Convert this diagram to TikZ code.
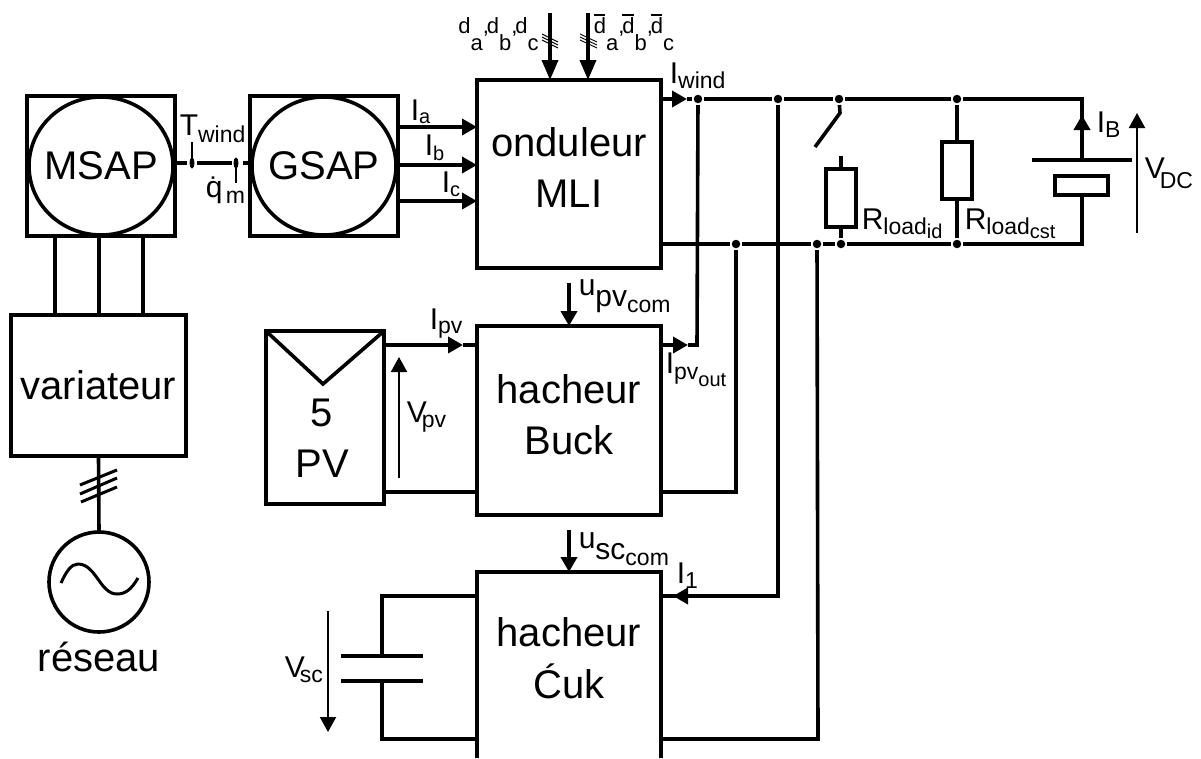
\documentclass[tikz,border=0pt]{standalone}
\usepackage{fontspec}
\setmainfont{Liberation Sans}
\usetikzlibrary{arrows.meta}
\newcommand\bigtxt{\fontsize{40}{50}\selectfont}
\newcommand\midtxt{\fontsize{30}{30}\selectfont}
\newcommand\sbb[2][-5pt]{\raisebox{#1}{\fontsize{23}{23}\selectfont #2}}
\newcommand\sbc[2][-4pt]{\raisebox{#1}{\fontsize{20}{20}\selectfont #2}}
\newcommand\sbd[1]{\raisebox{-17pt}{\fontsize{22}{22}\selectfont #1},\kern-2pt}
\newcommand\sbu[1]{\raisebox{-11pt}{\midtxt #1}}
\newcommand\dbar{\leavevmode\rlap{\raisebox{17.5pt}{\rule{11.5pt}{1.3pt}}}d}
\begin{document}
\begin{tikzpicture}[x=1pt,y=-1pt,line width=3.6pt]
                \tikzstyle{blockbox}=[draw,outer sep=0pt,inner sep=0pt,font=\bigtxt]
                \tikzstyle{dot}=[circle,fill,inner sep=0pt,minimum size=8.5pt]
                \tikzstyle{head}=[-{Triangle[length=15pt,width=16pt]}]
                \tikzstyle{bighead}=[-{Triangle[length=20pt,width=16pt]}]
                \tikzstyle{thinarrow}=[line width=2pt,-{Triangle[length=15pt,width=16pt]}]
                \tikzstyle{lbl}=[inner sep=0pt,anchor=base west,font=\midtxt]
                \tikzstyle{blktxt}=[inner sep=0pt,anchor=base,font=\bigtxt]
                \newcommand\lab[4]{\node[lbl] at (#1,#2) (#3) {#4};}
                \newcommand\blk[4]{\node[blktxt] at (#1,#2) (#3) {#4};}
                \useasboundingbox (0,0) rectangle (1201,758);
                \node[blockbox,minimum width=148pt,minimum height=140pt] at (101,166) (msap) {MSAP};
                \node[blockbox,minimum width=148pt,minimum height=140pt] at (324,166) (gsap) {GSAP};
                \node[blockbox,minimum width=175pt,minimum height=141pt] at (98.5,385.5) (vari) {variateur};
                \node[blockbox,minimum width=184pt,minimum height=188pt] at (569,174) (ond) {};
                \node[blockbox,minimum width=184pt,minimum height=189pt] at (569,420.5) (buck) {};
                \node[outer sep=0pt,inner sep=0pt,minimum width=184pt,minimum height=186pt] at (569,665) (cuk) {};
                \node[draw,outer sep=0pt,inner sep=0pt,minimum width=118pt,minimum height=173pt] at (325,417.5) (pv) {};
                \blk{569}{156}{ondtxt}{onduleur}
                \blk{569}{207}{mlitxt}{MLI}
                \blk{569}{403}{bucktxt}{hacheur}
                \blk{569}{454}{bucktxtb}{Buck}
                \blk{569}{646}{cuktxt}{hacheur}
                \blk{569}{698}{cuktxtb}{Ćuk}
                \blk{322}{426}{pvnum}{5}
                \blk{322}{477}{pvtxt}{PV}
                \blk{99}{671}{reseau}{réseau}
                \node[draw,circle,inner sep=0pt,outer sep=0pt,minimum size=100pt] at (99,582) (grid) {};
                \draw (cuk.south west) |- (cuk.north east) -- (cuk.south east);
                \draw (msap.center) ellipse (72 and 69) (gsap.center) ellipse (72 and 69);
                \draw (55,0 |- msap.south) -- (55,0 |- vari.north) (99,0 |- msap.south) -- (99,0 |- vari.north) (143,0 |- msap.south) -- (143,0 |- vari.north);
                \draw (vari.south) -- (grid.north);
                \draw[line width=3pt] (80,485) -- (117,470) (80,494) -- (117,478) (81,502) -- (117,487);
                \draw[line width=3pt] (61,583) .. controls (66,572) and (71,564) .. (78,564) .. controls (96,564) and (100,594) .. (117,594) .. controls (125,594) and (131,590) .. (138,578);
                \draw (msap.east |- 0,163) -- (187,163) (197,163) -- (232,163) (243,163) -- (gsap.west |- 0,163);
                \fill (192,163) ellipse (2.5 and 5.5) (236,163) ellipse (2.5 and 5.5);
                \draw[line width=1.6pt] (192,142) -- (192,163) (236,163) -- (236,183);
                \lab{178}{135}{tw}{T\sbb[-7pt]{wind}}
                \node[lbl] at (204,197) (qm) {\.q};
                \node[lbl] at (224,203) (qmsub) {\fontsize{23}{23}\selectfont m};
                \draw[head] (gsap.east |- 0,127) -- (ond.west |- 0,127);
                \draw[head] (gsap.east |- 0,165) -- (ond.west |- 0,165);
                \draw[head] (gsap.east |- 0,201) -- (ond.west |- 0,201);
                \lab{409}{120}{ia}{I\sbc[-3.5pt]{a}}
                \lab{423}{155}{ib}{I\sbc[-5pt]{b}}
                \lab{440}{192}{ic}{I\sbc{c}}
                \coordinate (da) at (550,13);
                \coordinate (dbara) at (588,13);
                \draw[bighead] (da) -- (da |- ond.north);
                \draw[bighead] (dbara) -- (dbara |- ond.north);
                \foreach \h in {-3,0,3} {
                    \draw[line width=0.9pt] (542,37+\h) -- (558,45+\h);
                    \draw[line width=0.9pt] (580,37+\h) -- (597,45+\h);
                }
                \node[lbl,font=\fontsize{22}{22}\selectfont] at (456.5,33) (dlab) {d\sbd{a}d\sbd{b}d\raisebox{-17pt}{c}};
                \node[lbl,font=\fontsize{22}{22}\selectfont] at (592,33) (dbarlab) {\dbar\sbd{a}\dbar\sbd{b}\dbar\raisebox{-17pt}{c}};
                \node[dot] at (698,99) (w1) {};
                \node[dot] at (778,99) (w2) {};
                \node[dot] at (839,99) (w3) {};
                \node[dot] at (957,99) (w4) {};
                \node[dot] at (736,244) (g1) {};
                \node[dot] at (817,244) (g2) {};
                \node[dot] at (841,244) (g3) {};
                \node[dot] at (957,244) (g4) {};
                \coordinate (iwtip) at (687,99);
                \coordinate (pvtip) at (688,345);
                \coordinate (batt) at (1082,160);
                \draw[head] (ond.east |- iwtip) -- (iwtip);
                \draw (iwtip) -- (w1) -- (w2) -- (w3) -- (w4) -- (1082,99) -- (batt);
                \draw (ond.east |- g1) -- (g1) -- (g2) -- (g3) -- (g4) -- (1082,244) -- (1082,195);
                \draw[head] (1082,160) -- (1082,115);
                \draw (1032,160) -- (1132,160);
                \node[draw,outer sep=0pt,inner sep=0pt,minimum width=53pt,minimum height=19pt] at (1081.5,185.5) (sc) {};
                \draw[thinarrow] (1137,233) -- (1137,113);
                \lab{1095}{132}{ib2}{I\sbb{B}}
                \lab{1143}{178}{vdc}{V\kern-5pt\sbb[-10pt]{DC}}
                \draw (w3) -- (840,113) -- (815,147);
                \node[draw,outer sep=0pt,inner sep=0pt,minimum width=30pt,minimum height=58pt] at (841,198) (rid) {};
                \node[draw,outer sep=0pt,inner sep=0pt,minimum width=30pt,minimum height=57pt] at (957,170.5) (rcst) {};
                \draw (841,156) -- (rid.north) (rid.south) -- (g3);
                \draw (w4) -- (rcst.north) (rcst.south) -- (g4);
                \lab{860}{229}{rl1}{R\sbb{load\sbc{id}}}
                \lab{963}{229}{rl2}{R\sbb{load\sbc{cst}}}
                \lab{668}{83}{iw}{I\sbb{wind}}
                \coordinate (upv) at (569,283);
                \draw[head] (upv) -- (upv |- buck.north);
                \lab{577}{295}{upvl}{u\sbu{pv\sbb[-6pt]{com}}}
                \draw[head] (buck.east |- pvtip) -- (pvtip);
                \draw (pvtip) -- (697,345) -- (w1);
                \lab{664}{373}{ipo}{I\sbb[-6pt]{pv\sbc[-7pt]{out}}}
                \coordinate (ipvtip) at (463,345);
                \draw[head] (pv.east |- ipvtip) -- (ipvtip);
                \draw (ipvtip) -- (buck.west |- ipvtip);
                \draw (pv.east |- 0,492) -- (buck.west |- 0,492);
                \draw (buck.east |- 0,492) -- (736,492) -- (g1);
                \draw (pv.north west) -- (323,384) -- (pv.north east);
                \lab{428}{329}{ipv}{I\sbb[-4pt]{pv}}
                \draw[thinarrow] (399,478) -- (399,357);
                \lab{405}{422}{vpv}{V\kern-5pt\sbb{pv}}
                \coordinate (usc) at (569,530);
                \draw[head] (usc) -- (usc |- cuk.north);
                \lab{577}{548}{uscl}{u\sbu{sc\sbb[-6pt]{com}}}
                \coordinate (itip) at (673,596);
                \draw (cuk.east |- itip) -- (778,596) -- (w2);
                \draw[head] (690,596) -- (itip);
                \lab{675}{583}{i1}{I\sbb{1}}
                \draw (cuk.east |- 0,739) -- (818,739) -- (g2);
                \draw (cuk.west |- 0,596) -- (382,596) -- (382,656);
                \draw (341,656) -- (423,656) (341,681) -- (423,681);
                \draw (382,681) -- (382,739) -- (cuk.west |- 0,739);
                \draw[thinarrow] (328,611) -- (328,732);
                \lab{283}{677}{vsc}{V\kern-5pt\sbb{sc}}
            \end{tikzpicture}
\end{document}
